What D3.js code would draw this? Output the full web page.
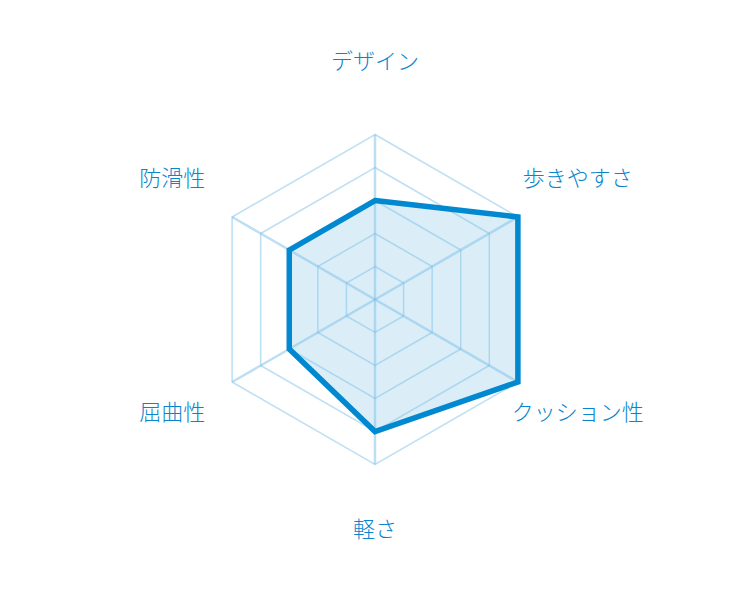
<!DOCTYPE html>
<html>
<head>
<meta charset="utf-8">
<script src="https://cdn.jsdelivr.net/npm/d3@7"></script>
<style>
  html, body { margin: 0; padding: 0; background: #fff; }
  text { font-family: "Noto Sans CJK JP", "Noto Sans", sans-serif; }
</style>
</head>
<body>
<div id="container"></div>
<script>
const axes = ['デザイン', '歩きやすさ', 'クッション性', '軽さ', '屈曲性', '防滑性'];
const values = [3, 5, 5, 4, 3, 3];
const levels = [1, 2, 3, 4, 5];

const width = 750, height = 600;
const cx = 375, cy = 299.5;
const R = 165;

const svg = d3.select('#container').append('svg')
  .attr('width', width)
  .attr('height', height);

const r = d3.scaleLinear().domain([0, 5]).range([0, R]);
const angle = d3.scalePoint().domain(axes).range([0, 2 * Math.PI * (axes.length - 1) / axes.length]);

const g = svg.append('g').attr('transform', `translate(${cx},${cy})`);

const radial = d3.lineRadial()
  .angle(d => angle(d.axis))
  .radius(d => r(d.value))
  .curve(d3.curveLinearClosed);

// data fill
const pts = axes.map((a, i) => ({axis: a, value: values[i]}));
g.append('path')
  .datum(pts)
  .attr('d', radial)
  .attr('fill', '#0088d0')
  .attr('fill-opacity', 0.14)
  .attr('stroke', 'none');

// grid rings
g.selectAll('path.ring')
  .data(levels)
  .join('path')
  .attr('class', 'ring')
  .attr('d', lv => radial(axes.map(a => ({axis: a, value: lv}))))
  .attr('fill', 'none')
  .attr('stroke', '#7cc0e8')
  .attr('stroke-opacity', 0.5)
  .attr('stroke-width', 1.5);

// spokes
g.selectAll('line.spoke')
  .data(axes)
  .join('line')
  .attr('class', 'spoke')
  .attr('x1', 0).attr('y1', 0)
  .attr('x2', a => r(5) * Math.sin(angle(a)))
  .attr('y2', a => -r(5) * Math.cos(angle(a)))
  .attr('stroke', '#7cc0e8')
  .attr('stroke-opacity', 0.5)
  .attr('stroke-width', 2.5);

// data outline
g.append('path')
  .datum(pts)
  .attr('d', radial)
  .attr('fill', 'none')
  .attr('stroke', '#0088d0')
  .attr('stroke-width', 5.5)
  .attr('stroke-linejoin', 'miter');

// labels
const labelR = 234;
g.selectAll('text.label')
  .data(axes)
  .join('text')
  .attr('class', 'label')
  .attr('x', a => labelR * Math.sin(angle(a)))
  .attr('y', a => -labelR * Math.cos(angle(a)) - 7)
  .attr('text-anchor', 'middle')
  .attr('dominant-baseline', 'central')
  .attr('fill', '#0a84cc')
  .attr('font-size', 22)
  .attr('font-weight', 300)
  .text(a => a);
</script>
</body>
</html>
